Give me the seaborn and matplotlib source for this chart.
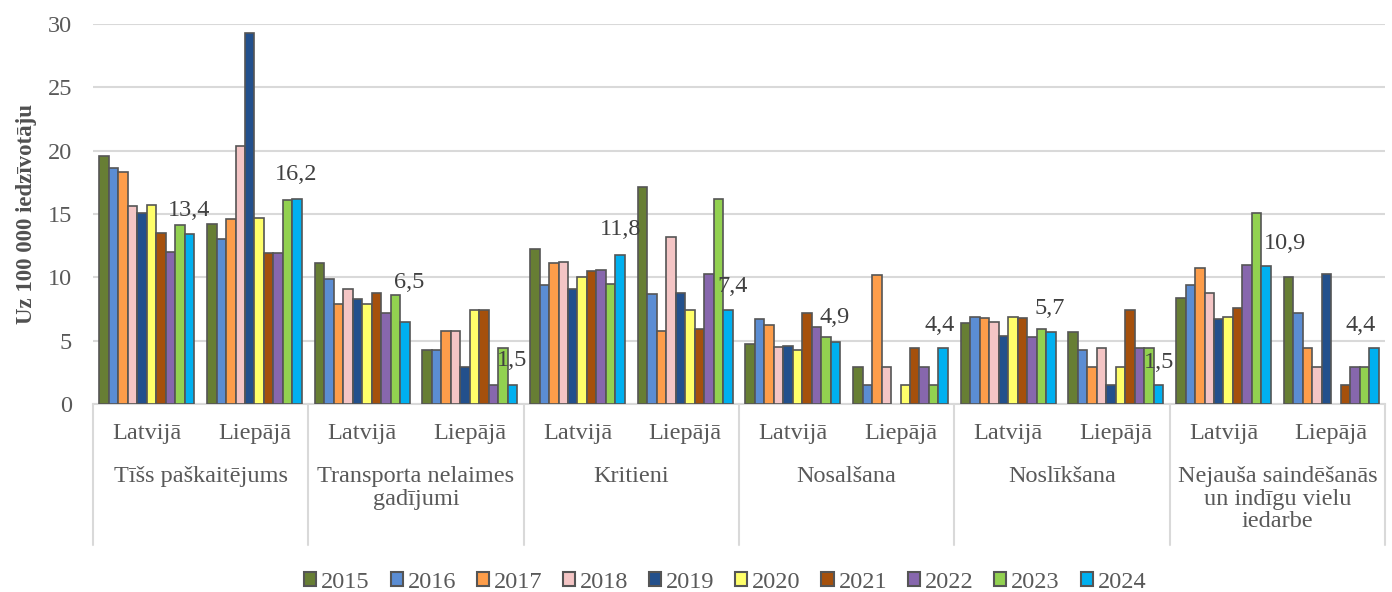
import numpy as np
import pandas as pd
import matplotlib
matplotlib.use("Agg")
import matplotlib.pyplot as plt
import matplotlib.transforms as mtransforms
from matplotlib.patches import Patch
import seaborn as sns

# data (per 100 000 inhabitants)
years = ["2015", "2016", "2017", "2018", "2019", "2020", "2021", "2022", "2023", "2024"]
causes = ["Tīšs paškaitējums", "Transporta nelaimes\ngadījumi", "Kritieni",
          "Nosalšana", "Noslīkšana", "Nejauša saindēšanās\nun indīgu vielu\niedarbe"]
places = ["Latvijā", "Liepājā"]

tiss_lv = [19.6, 18.6, 18.3, 15.6, 15.1, 15.7, 13.5, 12.0, 14.1, 13.4]
tiss_lp = [14.2, 13.0, 14.6, 20.4, 29.3, 14.7, 11.9, 11.9, 16.1, 16.2]
transp_lv = [11.1, 9.9, 7.9, 9.1, 8.3, 7.9, 8.8, 7.2, 8.6, 6.5]
transp_lp = [4.3, 4.3, 5.8, 5.8, 2.9, 7.4, 7.4, 1.5, 4.4, 1.5]
krit_lv = [12.2, 9.4, 11.1, 11.2, 9.1, 10.0, 10.5, 10.6, 9.5, 11.8]
krit_lp = [17.1, 8.7, 5.8, 13.2, 8.8, 7.4, 5.9, 10.3, 16.2, 7.4]
nosal_lv = [4.7, 6.7, 6.2, 4.5, 4.6, 4.3, 7.2, 6.1, 5.3, 4.9]
nosal_lp = [2.9, 1.5, 10.2, 2.9, np.nan, 1.5, 4.4, 2.9, 1.5, 4.4]
noslik_lv = [6.4, 6.9, 6.8, 6.5, 5.4, 6.9, 6.8, 5.3, 5.9, 5.7]
noslik_lp = [5.7, 4.3, 2.9, 4.4, 1.5, 2.9, 7.4, 4.4, 4.4, 1.5]
saind_lv = [8.4, 9.4, 10.7, 8.8, 6.7, 6.9, 7.6, 11.0, 15.1, 10.9]
saind_lp = [10.0, 7.2, 4.4, 2.9, 10.3, np.nan, 1.5, 2.9, 2.9, 4.4]

series = [tiss_lv, tiss_lp, transp_lv, transp_lp, krit_lv, krit_lp,
          nosal_lv, nosal_lp, noslik_lv, noslik_lp, saind_lv, saind_lp]

colors = ["#677E34", "#5B8DD3", "#FD9D4A", "#F4C5C5", "#23508C",
          "#FFFF6A", "#A5500C", "#8767AD", "#92D150", "#00B0F0"]

# label offsets (pixels) for the 2024 data labels
label_dx = [0, -1, 4, 0, 0, 5, -1, -4, -1, 1, 19, -13]
label_dy = [24, 24, 39, 24, 25, 24, 24, 23, 23, 23, 22, 23]

rows = []
for i, vals in enumerate(series):
    place = places[i % 2]
    for y, v in zip(years, vals):
        rows.append({"grp": f"{i}|{place}", "year": y, "value": v})
df = pd.DataFrame(rows)

sns.set_theme(style="white")
plt.rcParams["font.family"] = ["Liberation Serif", "DejaVu Serif"]
txt = "#595959"

fig, ax = plt.subplots(figsize=(13.92, 5.92), dpi=100)
fig.subplots_adjust(left=93 / 1392, right=1385 / 1392, top=1 - 24 / 592, bottom=1 - 404 / 592)

sns.barplot(data=df, x="grp", y="value", hue="year", hue_order=years,
            palette=dict(zip(years, colors)), saturation=1, width=0.88, gap=0,
            edgecolor="#555555", linewidth=1.2, legend=False, ax=ax, zorder=3)

ax.set_ylim(0, 30)
ax.set_yticks(range(0, 31, 5))
ax.set_xlim(-0.5, 11.5)
ax.yaxis.grid(True, color="#D9D9D9", lw=1.5)
ax.set_axisbelow(True)
for s in ["top", "right", "left"]:
    ax.spines[s].set_visible(False)
ax.spines["bottom"].set_color("#D9D9D9")
ax.spines["bottom"].set_linewidth(1.5)

ax.set_xticks(range(12))
ax.set_xticklabels([places[i % 2] for i in range(12)])
ax.tick_params(axis="x", length=0, pad=14, labelsize=17.5, labelcolor=txt)
ax.tick_params(axis="y", length=0, pad=15, labelsize=17.5, labelcolor=txt)
ax.set_xlabel("")
ax.set_ylabel("Uz 100 000 iedzīvotāju", fontsize=16.5, fontweight="bold", color="#505050", labelpad=8)

# multi-level category axis
trans = mtransforms.blended_transform_factory(ax.transData, ax.transAxes)
for g, cause in enumerate(causes):
    ax.text(2 * g + 0.5, -0.163, cause, transform=trans, ha="center", va="top",
            fontsize=17.5, color=txt, linespacing=1.1)
for xb in np.arange(-0.5, 12, 2):
    ax.plot([xb, xb], [0, -0.371], transform=trans, color="#D9D9D9", lw=1.5, clip_on=False)

# data labels for 2024
last = ax.containers[-1]
for i, bar in enumerate(last):
    v = series[i][-1]
    ax.annotate(f"{v:.1f}".replace(".", ","),
                xy=(bar.get_x() + bar.get_width() / 2, bar.get_height()),
                xytext=(label_dx[i], label_dy[i]), textcoords="offset pixels",
                ha="center", va="center", fontsize=17.5, color="#404040", zorder=5)

handles = [Patch(facecolor=c, edgecolor="#555555", linewidth=1.5) for c in colors]
fig.legend(handles, years, loc="center", bbox_to_anchor=(0.521, 0.016), ncol=10,
           frameon=False, fontsize=17.5, handlelength=0.5, handleheight=0.5,
           handletextpad=0.2, columnspacing=0.85, labelcolor=txt)

fig.savefig("out.png", dpi=100)
